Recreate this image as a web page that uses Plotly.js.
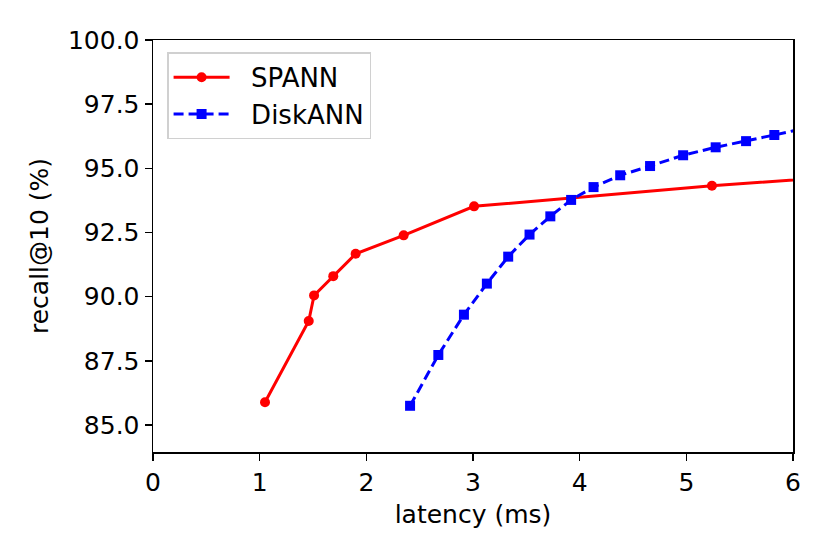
<!DOCTYPE html>
<html>
<head>
<meta charset="utf-8">
<script src="https://cdn.plot.ly/plotly-3.0.1.min.js"></script>
<style>
  html, body { margin: 0; padding: 0; background: #fff; }
  #chart { width: 830px; height: 554px; }
</style>
</head>
<body>
<div id="chart"></div>
<script>
// latency (ms) vs recall@10 (%)
const spannLatency = [1.05, 1.46, 1.51, 1.69, 1.90, 2.35, 3.01, 5.24, 7.5];
const spannRecall = [85.89, 89.05, 90.05, 90.80, 91.67, 92.39, 93.52, 94.32, 95.00];

const diskLatency = [2.41, 2.675, 2.915, 3.13, 3.33, 3.53, 3.725, 3.92, 4.13, 4.38, 4.66, 4.97, 5.275, 5.56, 5.825, 6.1];
const diskRecall = [85.75, 87.73, 89.30, 90.51, 91.56, 92.42, 93.13, 93.77, 94.27, 94.73, 95.09, 95.51, 95.82, 96.06, 96.30, 96.55];

const xTicks = [0, 1, 2, 3, 4, 5, 6];
const yTicks = [85.0, 87.5, 90.0, 92.5, 95.0, 97.5, 100.0];

const font = "DejaVu Sans, sans-serif";
const pad = "\u00a0\u00a0";

let traceSpann = {
    name: pad + "SPANN",
    x: spannLatency,
    y: spannRecall,
    type: "scatter",
    mode: "lines+markers",
    line: { color: "#ff0000", width: 3 },
    marker: { color: "#ff0000", size: 10, symbol: "circle" },
};
let traceDisk = {
    name: pad + "DiskANN",
    x: diskLatency,
    y: diskRecall,
    type: "scatter",
    mode: "lines+markers",
    line: { color: "#0000ff", width: 3, dash: "10px,5px" },
    marker: { color: "#0000ff", size: 10, symbol: "square" },
};

let layout = {
    width: 830,
    height: 554,
    margin: { l: 153, r: 37, t: 40, b: 102 },
    paper_bgcolor: "#fff",
    plot_bgcolor: "#fff",
    font: { family: font, size: 26, color: "#000" },
    showlegend: true,
    legend: {
        x: 0.022, y: 0.97,
        xanchor: "left", yanchor: "top",
        bordercolor: "#d0d0d0", borderwidth: 1.5,
        bgcolor: "rgba(255,255,255,0.8)",
        font: { family: font, size: 26 },
        itemwidth: 56,
        tracegroupgap: 0,
    },
    xaxis: {
        range: [0, 6],
        tickvals: xTicks,
        ticktext: xTicks.map(String),
        ticks: "outside", ticklen: 7, tickwidth: 1.5, tickcolor: "#000",
        showline: true, linecolor: "#000", linewidth: 1.5, mirror: true,
        showgrid: false, zeroline: false,
        tickfont: { family: font, size: 25 },
        title: { text: "latency (ms)", font: { family: font, size: 25 }, standoff: 10 },
    },
    yaxis: {
        range: [83.95, 100],
        tickvals: yTicks,
        ticktext: yTicks.map((v) => v.toFixed(1)),
        ticks: "outside", ticklen: 7, tickwidth: 1.5, tickcolor: "#000",
        showline: true, linecolor: "#000", linewidth: 1.5, mirror: true,
        showgrid: false, zeroline: false,
        tickfont: { family: font, size: 25 },
        title: { text: "recall@10 (%)", font: { family: font, size: 25 }, standoff: 12 },
    },
};

Plotly.newPlot("chart", [traceSpann, traceDisk], layout, { staticPlot: true });
</script>
</body>
</html>
